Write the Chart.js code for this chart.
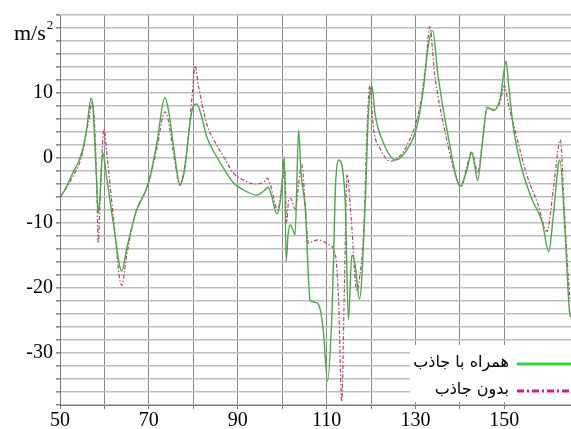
<!DOCTYPE html>
<html lang="fa">
<head>
    <meta charset="UTF-8">
    <title>Acceleration response</title>
    <style>
        body {
            margin: 0;
            padding: 0;
            background-color: #fff;
        }

        #chart-box {
            width: 571px;
            height: 429px;
        }
    </style>
    <script src="https://cdn.jsdelivr.net/npm/chart.js"></script>
</head>
<body>

<div id="chart-box">
    <canvas id="responseChart" width="571" height="429"></canvas>
</div>

<script>
    // frequency (Hz) and acceleration (m/s^2)
    const withAbsorberHz = [50, 51, 52.6, 54.9, 56, 57, 57.4, 57.7, 58.2, 58.6, 59, 59.6, 60.5, 62, 63.9, 65, 67, 69.9, 71.8, 73.6, 74.5, 75.5, 77, 78, 79.7, 80.8, 82, 83, 85, 87, 89, 91, 94.3, 96, 96.8, 97.5, 98.8, 99.5, 100.2, 100.5, 100.9, 101.3, 101.8, 102.4, 102.9, 103.7, 104.2, 105.2, 106.3, 107.4, 108.6, 109.3, 110.2, 111.2, 111.6, 111.9, 112.7, 114.2, 114.9, 115.7, 116.4, 117.4, 118.7, 119.4, 120.2, 120.9, 122.8, 125.5, 128.1, 130.3, 131.8, 132.9, 133.9, 135, 137.1, 140.1, 141.5, 142.7, 143.3, 144, 145, 146.1, 147.6, 149.1, 150.4, 151, 152.1, 154, 156.2, 158.5, 160, 161, 162.2, 162.5, 163.7, 164.7, 165];
    const withAbsorber = [-6, -5, -2.7, 0.8, 4.5, 9.2, 8, 4.3, -3, -8.5, -6, 0.8, -3, -10, -17.4, -14, -8.5, -3.8, 2.3, 9.3, 7, 2, -4, -2, 7.3, 8.3, 6, 3.3, 0.5, -1.8, -3.8, -4.8, -5.7, -5, -4.5, -5.5, -8.6, -7, -2, 0.2, -15.9, -12, -10.3, -11, -11.8, 4.3, -2, -7.8, -21.9, -22.2, -23.4, -26.9, -34.3, -24, -14.8, -6, -0.3, -6.8, -24.9, -14.9, -16.4, -21.7, -6.8, 6.8, 11.1, 6.8, 2.3, -0.3, 1.3, 4.8, 10.8, 17.4, 19.6, 13, 4.3, -4.3, -2, 0.8, -1, -3.5, 2, 7.8, 7.3, 9.3, 14.9, 11, 4.3, -1.8, -6.3, -9.8, -14.4, -9, -0.8, -0.3, -11.8, -23.9, -24.5];

    const withoutAbsorberHz = [50, 52.6, 54.9, 56.5, 57.2, 57.8, 58.3, 58.6, 59.2, 59.9, 60.5, 62, 63.9, 65, 67, 69.9, 71.8, 73.6, 74.3, 75.5, 77, 78.5, 79.8, 80.4, 81.2, 83, 85, 87, 89, 91, 94, 96, 96.6, 97.3, 99, 100.2, 100.6, 101, 101.4, 101.9, 102.9, 104.4, 105.2, 105.9, 107, 108.2, 110.4, 112, 112.7, 113.4, 114, 114.6, 115.5, 116.8, 117.3, 118.3, 119.2, 119.7, 120.6, 122, 124.3, 126, 128, 131.1, 132.4, 133.2, 134.3, 136.5, 139.7, 140.3, 141.5, 142.7, 143.3, 144, 145, 146.1, 147.6, 149, 150, 151, 152.5, 155, 157.5, 159.6, 161, 162.6, 163.5, 164.7, 165];
    const withoutAbsorber = [-6.2, -3.2, 0.3, 6, 8.5, 5, -5, -13.1, -3, 4.5, 1, -9, -19.6, -15, -8.5, -4, 1.5, 7.1, 6, 1, -4.2, 1, 10, 14.2, 11, 5.3, 2.3, 0, -2.3, -3.3, -4, -3.6, -3.1, -4, -8, -3, -2, -10, -6.8, -6.2, -7.8, -1, -7.3, -13.1, -12.8, -12.6, -13.3, -15, -22, -37.5, -20, -2.5, -9, -20.4, -19, -11.8, 6, 11.1, 4.3, 1.5, -0.5, 0, 1.8, 8.3, 15, 20.2, 13, 4.5, -4, -4.4, -1.5, 1, -0.5, -2.3, 2, 7.5, 7.5, 8.5, 11.1, 8, 4, -2.5, -7, -11.3, -5, 2.8, -8, -21, -22];

    const xTickLabels = [50, 70, 90, 110, 130, 150];
    const yTickLabels = [10, 0, -10, -20, -30];
    const seriesNames = ['همراه با جاذب', 'بدون جاذب'];

    function toPoints(xs, ys) {
        return xs.map((x, i) => ({ x: x, y: ys[i] }));
    }

    // unit text on the y axis and the boxed legend at the bottom right
    const extrasPlugin = {
        id: 'extras',
        afterDraw(chart) {
            const ctx = chart.ctx;
            const area = chart.chartArea;
            const yScale = chart.scales.y;

            ctx.save();
            ctx.fillStyle = '#000';
            ctx.textBaseline = 'middle';
            ctx.textAlign = 'left';
            ctx.font = '22px "Liberation Serif"';
            const unitY = yScale.getPixelForValue(19);
            ctx.fillText('m/s', 14, unitY);
            const unitW = ctx.measureText('m/s').width;
            ctx.font = '13px "Liberation Serif"';
            ctx.fillText('2', 14 + unitW + 1, unitY - 9);

            // legend
            const boxW = 161, boxH = 57;
            const bx = area.right - boxW;
            const by = area.bottom - 3 - boxH;
            ctx.fillStyle = '#fff';
            ctx.fillRect(bx, by, boxW, boxH);

            const rows = [by + 18, by + 45];
            chart.data.datasets.forEach((ds, i) => {
                ctx.fillStyle = '#000';
                ctx.font = '16px "DejaVu Sans"';
                ctx.textAlign = 'right';
                ctx.direction = 'rtl';
                ctx.fillText(ds.label, bx + 99, rows[i]);
                ctx.direction = 'ltr';

                ctx.beginPath();
                ctx.strokeStyle = ds.legendColor;
                ctx.lineWidth = 3;
                ctx.setLineDash(ds.borderDash ? [7, 3, 2, 3] : []);
                ctx.moveTo(bx + 107, rows[i] + 1);
                ctx.lineTo(area.right, rows[i] + 1);
                ctx.stroke();
            });
            ctx.restore();
        }
    };

    const ctx = document.getElementById('responseChart').getContext('2d');
    new Chart(ctx, {
        type: 'line',
        data: {
            datasets: [
                {
                    label: seriesNames[0],
                    data: toPoints(withAbsorberHz, withAbsorber),
                    borderColor: '#4aa84a',
                    legendColor: '#3ccc3c',
                    borderWidth: 1.4,
                    pointRadius: 0,
                    cubicInterpolationMode: 'monotone'
                },
                {
                    label: seriesNames[1],
                    data: toPoints(withoutAbsorberHz, withoutAbsorber),
                    borderColor: '#b8406a',
                    legendColor: '#d81b7a',
                    borderWidth: 1.2,
                    borderDash: [4, 2, 1.5, 2],
                    pointRadius: 0,
                    cubicInterpolationMode: 'monotone'
                }
            ]
        },
        options: {
            responsive: false,
            animation: false,
            layout: { padding: { top: 10, right: 0, left: 0, bottom: 0 } },
            plugins: {
                legend: { display: false },
                tooltip: { enabled: false }
            },
            scales: {
                x: {
                    type: 'linear',
                    min: 50,
                    max: 165,
                    afterBuildTicks(scale) {
                        scale.ticks = scale.ticks.filter(t => t.value % 10 === 0);
                    },
                    afterFit(scale) {
                        scale.height = 24;
                    },
                    grid: {
                        color: '#8a8a8a',
                        lineWidth: 1,
                        tickLength: 4,
                        tickColor: '#777'
                    },
                    border: { color: '#777' },
                    ticks: {
                        stepSize: 10,
                        autoSkip: false,
                        maxRotation: 0,
                        padding: 0,
                        color: '#000',
                        font: { family: '"Liberation Serif"', size: 20 },
                        callback: (v) => {
                            if (xTickLabels.includes(v)) return String(v);
                            if (v === 160) return 'Hz';
                            return '';
                        }
                    }
                },
                y: {
                    min: -38,
                    max: 22,
                    afterFit(scale) {
                        scale.width = 60;
                    },
                    grid: {
                        color: '#bdbdbd',
                        lineWidth: 1.6,
                        tickLength: 4,
                        tickColor: '#888'
                    },
                    border: { color: '#777' },
                    ticks: {
                        stepSize: 2,
                        autoSkip: false,
                        padding: 3,
                        color: '#000',
                        font: { family: '"Liberation Serif"', size: 20 },
                        callback: (v) => yTickLabels.includes(v) ? String(v) : ''
                    }
                }
            }
        },
        plugins: [extrasPlugin]
    });
</script>
</body>
</html>
